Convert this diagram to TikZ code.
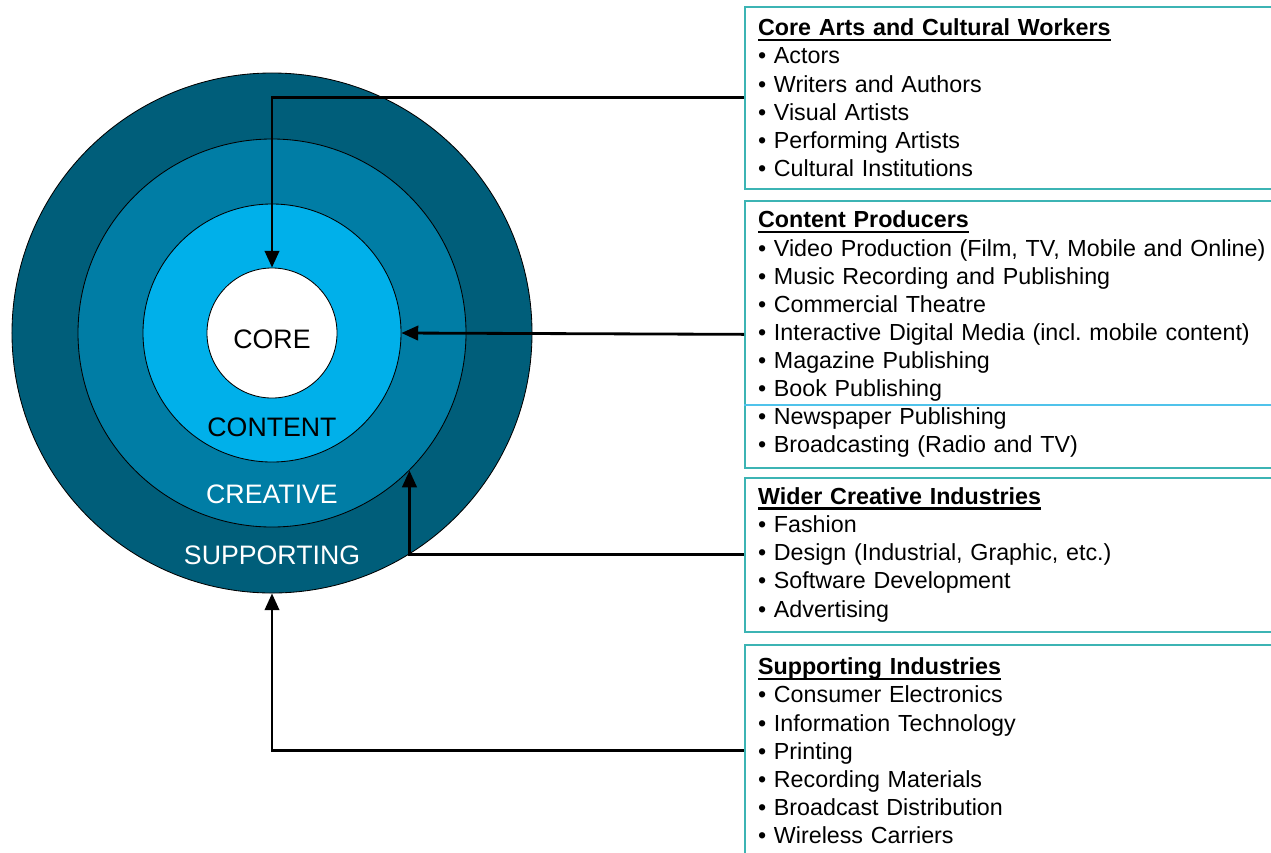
\documentclass[tikz,border=0pt]{standalone}
\usepackage{fontspec}
\setmainfont{Liberation Sans}
\usetikzlibrary{arrows.meta}
\definecolor{ringouter}{RGB}{0,94,122}
\definecolor{ringcreative}{RGB}{0,125,165}
\definecolor{ringcontent}{RGB}{0,176,234}
\definecolor{boxteal}{RGB}{60,180,180}
\definecolor{divblue}{RGB}{80,195,235}
\newsavebox{\titlebox}
\newcommand{\boxtitle}[1]{\sbox{\titlebox}{\textbf{#1}}\usebox{\titlebox}\llap{\rule[-3.6pt]{\wd\titlebox}{1.6pt}}}
\frenchspacing

\tikzset{
  ring/.style={circle,draw=black,line width=0.6pt,inner sep=0pt},
  ringlabel/.style={font=\fontsize{19}{22}\selectfont},
  listbox/.style={draw=boxteal,line width=1.2pt,anchor=north west,align=left,
    text width=132mm,inner xsep=3.3mm,inner ysep=0pt,
    font=\fontsize{16.55}{20}\selectfont},
  feed/.style={line width=2pt,-{Triangle[length=4.2mm,width=3.6mm]}}
}

\begin{document}
\begin{tikzpicture}[x=0.25mm,y=-0.25mm]
    \useasboundingbox (0,0) rectangle (1271,852);
    % rings
    \node[ring,fill=ringouter,minimum size=130mm] (supporting) at (272,333) {};
    \node[ring,fill=ringcreative,minimum size=97mm] (creative) at (272,333) {};
    \node[ring,fill=ringcontent,minimum size=64.5mm] (content) at (272,333) {};
    \node[ring,fill=white,minimum size=32.5mm] (core) at (272,333) {};
    \node[ringlabel] (corelbl) at (272,339) {CORE};
    \node[ringlabel] (contentlbl) at (272,427) {CONTENT};
    \node[ringlabel,white] (creativelbl) at (272,494) {CREATIVE};
    \node[ringlabel,white] (supportlbl) at (272,555) {SUPPORTING};
    % lists
    \node[listbox,minimum height=45.5mm] (workers) at (744,6) {%
      \boxtitle{Core Arts and Cultural Workers}\\
      • Actors\\
      • Writers and Authors\\
      • Visual Artists\\
      • Performing Artists\\
      • Cultural Institutions};
    \node[listbox,minimum height=66.75mm] (producers) at (744,200) {%
      \boxtitle{Content Producers}\\
      • Video Production (Film, TV, Mobile and Online)\\
      • Music Recording and Publishing\\
      • Commercial Theatre\\
      • Interactive Digital Media (incl. mobile content)\\
      • Magazine Publishing\\
      • Book Publishing\\
      • Newspaper Publishing\\
      • Broadcasting (Radio and TV)};
    \draw[divblue,line width=1.2pt] (producers.west |- 0,405) -- (producers.east |- 0,405);
    \node[listbox,minimum height=38.5mm] (wider) at (744,477) {%
      \boxtitle{Wider Creative Industries}\\
      • Fashion\\
      • Design (Industrial, Graphic, etc.)\\
      • Software Development\\
      • Advertising};
    \node[listbox,minimum height=53mm] (supportind) at (744,644) {%
      \boxtitle{Supporting Industries}\\
      • Consumer Electronics\\
      • Information Technology\\
      • Printing\\
      • Recording Materials\\
      • Broadcast Distribution\\
      • Wireless Carriers};
    % connectors
    \draw[feed] (workers.west) -| (core.north);
    \draw[feed] (producers.west) -- (content.east);
    \draw[feed] (wider.west) -| (creative.-45);
    \draw[feed] (supportind.west) -| (supporting.south);
\end{tikzpicture}
\end{document}
